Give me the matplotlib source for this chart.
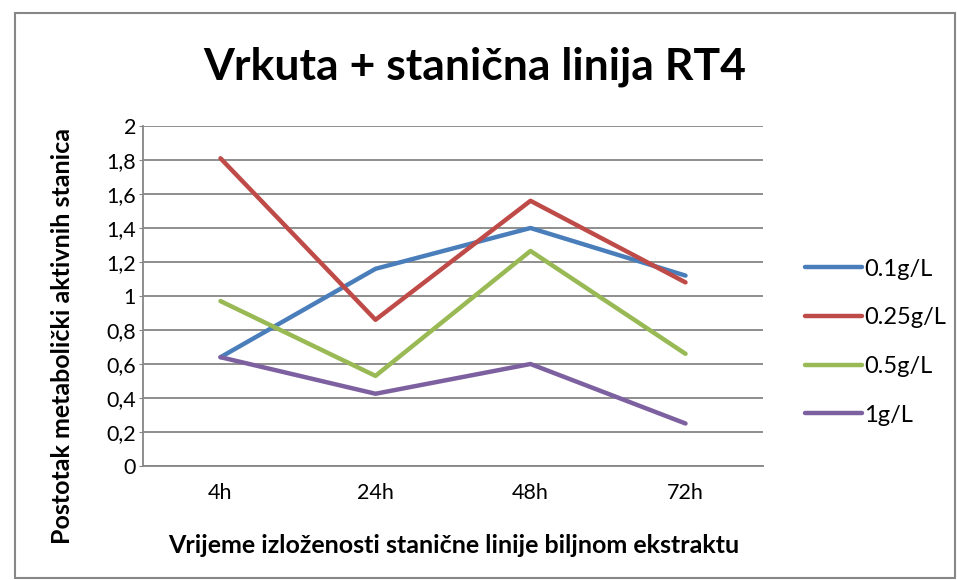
import matplotlib.pyplot as plt
from matplotlib.patches import Rectangle
from matplotlib.ticker import FuncFormatter

# Data
categories = ['4h', '24h', '48h', '72h']
series_names = ['0.1g/L', '0.25g/L', '0.5g/L', '1g/L']
vals_01 = [0.64, 1.16, 1.40, 1.12]
vals_025 = [1.81, 0.86, 1.56, 1.08]
vals_05 = [0.97, 0.53, 1.265, 0.66]
vals_1 = [0.64, 0.425, 0.60, 0.25]
colors = ['#4A7EBB', '#BE4B48', '#98B954', '#7D60A0']

plt.rcParams['font.family'] = ['Lato', 'DejaVu Sans']

fig = plt.figure(figsize=(9.57, 5.8), dpi=100)
fig.patches.append(Rectangle((15 / 957, 2 / 580), 940 / 957, 565 / 580,
                             transform=fig.transFigure, fill=False,
                             edgecolor='#878787', linewidth=1.5))

ax = fig.add_axes([143 / 957, 114 / 580, 620 / 957, 340 / 580])
x = range(len(categories))
for vals, name, c in zip([vals_01, vals_025, vals_05, vals_1], series_names, colors):
    ax.plot(x, vals, color=c, linewidth=3.2, label=name, solid_capstyle='round')

ax.set_xlim(-0.5, len(categories) - 0.5)
ax.set_ylim(0, 2)
ax.set_yticks([i * 0.2 for i in range(11)])
ax.yaxis.set_major_formatter(FuncFormatter(
    lambda v, p: ('%g' % round(v, 1)).replace('.', ',')))
ax.set_xticks(list(x))
ax.set_xticklabels(categories)
ax.grid(axis='y', color='#868686', linewidth=1.3)
ax.set_axisbelow(True)
for s in ['top', 'right']:
    ax.spines[s].set_visible(False)
for s in ['left', 'bottom']:
    ax.spines[s].set_color('#868686')
    ax.spines[s].set_linewidth(1.3)
ax.tick_params(axis='both', labelsize=15.5, length=0)
ax.tick_params(axis='x', pad=12)
ax.tick_params(axis='y', length=3, color='#868686', pad=2)

fig.text(0.496, 0.885, 'Vrkuta + stanična linija RT4', ha='center', va='center',
         fontsize=32, fontweight='bold')
fig.text(0.474, 0.06, 'Vrijeme izloženosti stanične linije biljnom ekstraktu',
         ha='center', va='center', fontsize=18, fontweight='bold')
fig.text(0.065, 0.42, 'Postotak metabolički aktivnih stanica', ha='center',
         va='center', rotation=90, fontsize=18, fontweight='bold')

fig.legend(loc='center left', bbox_to_anchor=(805 / 957, 0.41), frameon=False,
           fontsize=17, handlelength=2.4, handletextpad=0.1, labelspacing=1.17,
           borderpad=0, borderaxespad=0)

fig.savefig('out.png', dpi=100)
